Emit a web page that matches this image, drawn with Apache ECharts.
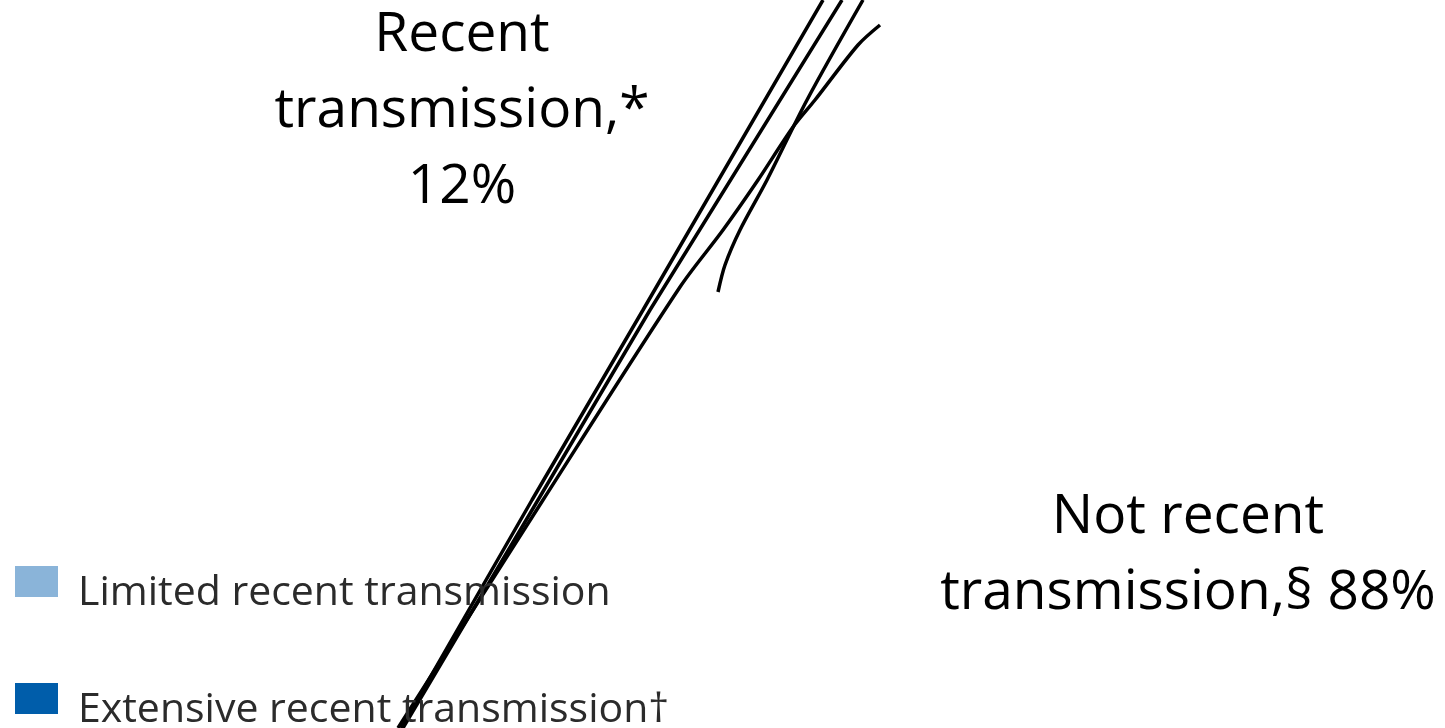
<!DOCTYPE html>
<html>
<head>
<meta charset="utf-8">
<script src="https://cdn.jsdelivr.net/npm/echarts@6/dist/echarts.min.js"></script>
<style>
  html, body { margin: 0; padding: 0; background: #fff; }
  #chart { width: 1445px; height: 728px; }
</style>
</head>
<body>
<div id="chart"></div>
<script>
// slice labels and shares
const shareLabels = ['Recent\ntransmission,*', 'Not recent\ntransmission,§']
const shareValues = [12, 88]

// legend entries
const legendNames = ['Limited recent transmission', 'Extensive recent transmission†']
const legendColors = ['#8ab4d9', '#005daa']

// connector strokes, [x, y] in picture pixels
const strokeA = [[823, 0], [643, 310], [532, 500], [401, 728]]
const strokeB = [[842, 0], [650, 310], [538, 500], [403, 728]]
const strokeC = [[863, 0], [807, 100], [767, 180], [740, 230], [725, 265], [718, 292]]
const strokeD = [[880, 25], [858, 45], [815, 100], [793, 127], [758, 180], [723, 230], [680, 287], [543, 500], [398, 728]]

const chart = echarts.init(document.getElementById('chart'))

const font = '"Open Sans", "Noto Sans", sans-serif'

const strokeSeries = [strokeA, strokeB, strokeC, strokeD].map((pts, i) => ({
  name: 'stroke' + i,
  type: 'line',
  data: pts,
  smooth: i < 2 ? false : 0.3,
  symbol: 'none',
  silent: true,
  lineStyle: { color: '#000', width: 3.5 },
  z: 3
}))

// empty series only carry the legend colours
const legendSeries = legendNames.map((name, i) => ({
  name,
  type: 'bar',
  data: [],
  itemStyle: { color: legendColors[i] }
}))

const option = {
  animation: false,
  backgroundColor: '#fff',
  grid: { left: 0, right: 0, top: 0, bottom: 0 },
  xAxis: { type: 'value', min: 0, max: 1445, show: false },
  yAxis: { type: 'value', min: 0, max: 728, inverse: true, show: false },
  legend: {
    data: legendNames,
    orient: 'vertical',
    left: 15,
    top: 549,
    height: 300,
    padding: 0,
    icon: 'rect',
    itemWidth: 43,
    itemHeight: 31,
    itemGap: 52,
    // rich padding pushes the text a bit below the square, like the original
    formatter: name => '{t|' + name + '}',
    textStyle: {
      rich: {
        t: {
          fontFamily: font,
          fontSize: 41,
          color: '#2b2b2b',
          lineHeight: 22,
          padding: [24, 0, 0, 15]
        }
      }
    }
  },
  graphic: [
    {
      type: 'text',
      style: {
        x: 462, y: 111,
        text: shareLabels[0] + '\n' + shareValues[0] + '%',
        font: '55px ' + font,
        fill: '#000',
        textAlign: 'center',
        textVerticalAlign: 'middle',
        lineHeight: 76
      }
    },
    {
      type: 'text',
      style: {
        x: 1188, y: 555,
        text: shareLabels[1] + ' ' + shareValues[1] + '%',
        font: '55px ' + font,
        fill: '#000',
        textAlign: 'center',
        textVerticalAlign: 'middle',
        lineHeight: 76
      }
    }
  ],
  series: [...legendSeries, ...strokeSeries]
}

chart.setOption(option)
</script>
</body>
</html>
